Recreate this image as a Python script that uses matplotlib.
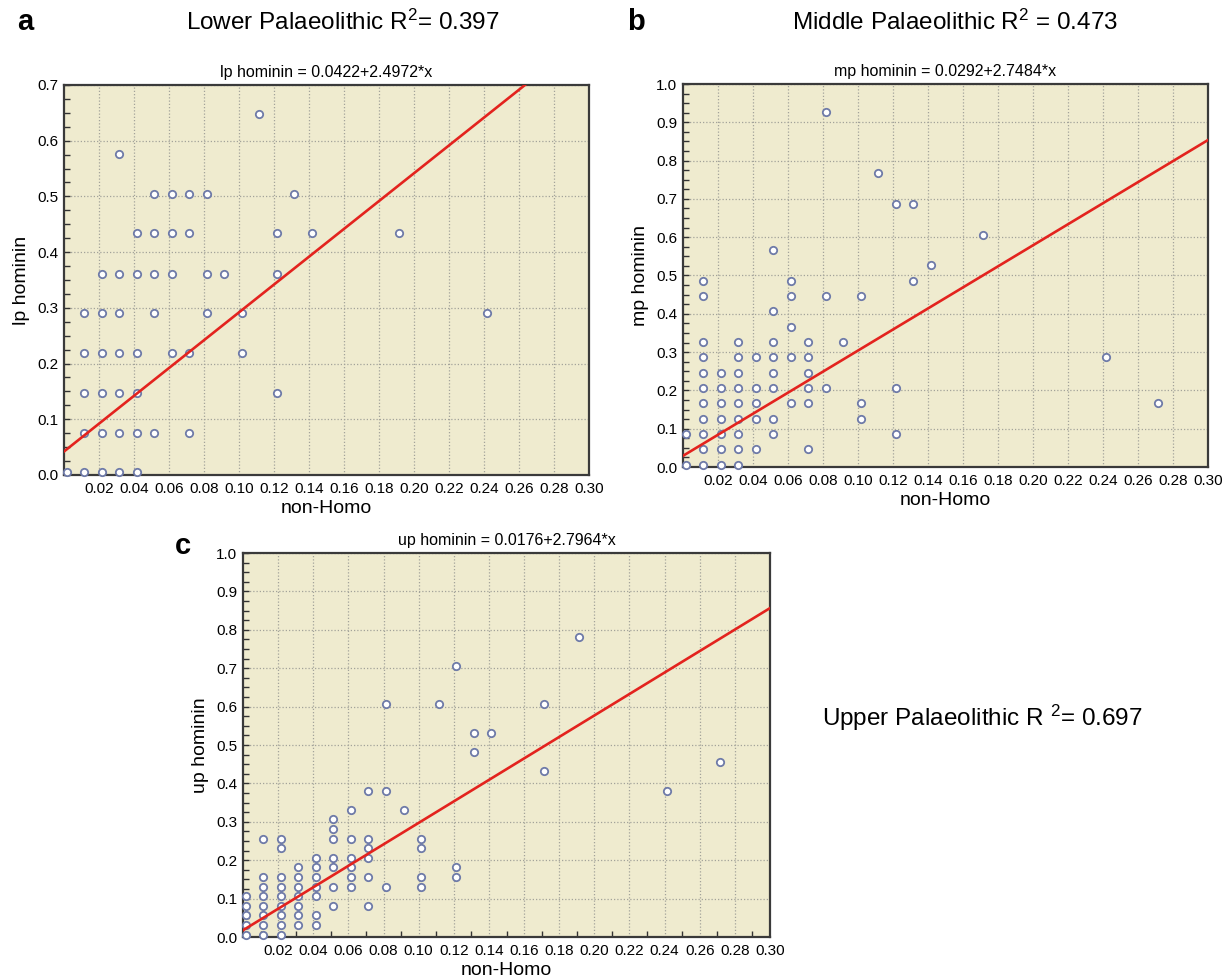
import numpy as np
import matplotlib.pyplot as plt
import matplotlib.transforms as mtransforms
from matplotlib.ticker import MultipleLocator, FormatStrFormatter, FixedLocator

plt.rcParams['font.family'] = ['Liberation Sans', 'DejaVu Sans']
plt.rcParams['mathtext.fontset'] = 'custom'
plt.rcParams['mathtext.rm'] = 'Liberation Sans'
plt.rcParams['mathtext.it'] = 'Liberation Sans:italic'

# Lower Palaeolithic (panel a)
lp_x = [0.00, 0.01, 0.02, 0.03, 0.04,
        0.01, 0.02, 0.03, 0.04, 0.05, 0.07,
        0.01, 0.02, 0.03, 0.04, 0.12,
        0.01, 0.02, 0.03, 0.04, 0.06, 0.07, 0.10,
        0.01, 0.02, 0.03, 0.05, 0.08, 0.10, 0.24,
        0.02, 0.03, 0.04, 0.05, 0.06, 0.08, 0.09, 0.12,
        0.04, 0.05, 0.06, 0.07, 0.12, 0.14, 0.19,
        0.05, 0.06, 0.07, 0.08, 0.13,
        0.03,
        0.11]
lp_y = [0.0, 0.0, 0.0, 0.0, 0.0,
        0.071, 0.071, 0.071, 0.071, 0.071, 0.071,
        0.143, 0.143, 0.143, 0.143, 0.143,
        0.214, 0.214, 0.214, 0.214, 0.214, 0.214, 0.214,
        0.286, 0.286, 0.286, 0.286, 0.286, 0.286, 0.286,
        0.357, 0.357, 0.357, 0.357, 0.357, 0.357, 0.357, 0.357,
        0.429, 0.429, 0.429, 0.429, 0.429, 0.429, 0.429,
        0.5, 0.5, 0.5, 0.5, 0.5,
        0.571,
        0.643]

# Middle Palaeolithic (panel b)
mp_x = [0.00, 0.01, 0.02, 0.03,
        0.01, 0.02, 0.03, 0.04, 0.07,
        0.00, 0.01, 0.02, 0.03, 0.05, 0.12,
        0.01, 0.02, 0.03, 0.04, 0.05, 0.10,
        0.01, 0.02, 0.03, 0.04, 0.06, 0.07, 0.10, 0.27,
        0.01, 0.02, 0.03, 0.04, 0.05, 0.07, 0.08, 0.12,
        0.01, 0.02, 0.03, 0.05, 0.07,
        0.01, 0.03, 0.04, 0.05, 0.06, 0.07, 0.24,
        0.01, 0.03, 0.05, 0.07, 0.09,
        0.06,
        0.05,
        0.01, 0.06, 0.08, 0.10,
        0.01, 0.06, 0.13,
        0.14,
        0.05,
        0.17,
        0.12, 0.13,
        0.11,
        0.08]
mp_y = [0.0, 0.0, 0.0, 0.0,
        0.04, 0.04, 0.04, 0.04, 0.04,
        0.08, 0.08, 0.08, 0.08, 0.08, 0.08,
        0.12, 0.12, 0.12, 0.12, 0.12, 0.12,
        0.16, 0.16, 0.16, 0.16, 0.16, 0.16, 0.16, 0.16,
        0.20, 0.20, 0.20, 0.20, 0.20, 0.20, 0.20, 0.20,
        0.24, 0.24, 0.24, 0.24, 0.24,
        0.28, 0.28, 0.28, 0.28, 0.28, 0.28, 0.28,
        0.32, 0.32, 0.32, 0.32, 0.32,
        0.36,
        0.40,
        0.44, 0.44, 0.44, 0.44,
        0.48, 0.48, 0.48,
        0.52,
        0.56,
        0.60,
        0.68, 0.68,
        0.76,
        0.92]

# Upper Palaeolithic (panel c)
up_x = [0.00, 0.01, 0.02,
        0.00, 0.01, 0.02, 0.03, 0.04,
        0.00, 0.01, 0.02, 0.03, 0.04,
        0.00, 0.01, 0.02, 0.03, 0.05, 0.07,
        0.00, 0.01, 0.02, 0.03, 0.04,
        0.01, 0.02, 0.03, 0.04, 0.05, 0.06, 0.08, 0.10,
        0.01, 0.02, 0.03, 0.04, 0.06, 0.07, 0.10, 0.12,
        0.03, 0.04, 0.05, 0.06, 0.12,
        0.04, 0.05, 0.06, 0.07,
        0.02, 0.07, 0.10,
        0.01, 0.02, 0.05, 0.06, 0.07, 0.10,
        0.05,
        0.05,
        0.06, 0.09,
        0.07, 0.08, 0.24,
        0.17,
        0.27,
        0.13,
        0.13, 0.14,
        0.08, 0.11, 0.17,
        0.12,
        0.19]
up_y = [0.0, 0.0, 0.0,
        0.025, 0.025, 0.025, 0.025, 0.025,
        0.05, 0.05, 0.05, 0.05, 0.05,
        0.075, 0.075, 0.075, 0.075, 0.075, 0.075,
        0.10, 0.10, 0.10, 0.10, 0.10,
        0.125, 0.125, 0.125, 0.125, 0.125, 0.125, 0.125, 0.125,
        0.15, 0.15, 0.15, 0.15, 0.15, 0.15, 0.15, 0.15,
        0.175, 0.175, 0.175, 0.175, 0.175,
        0.20, 0.20, 0.20, 0.20,
        0.225, 0.225, 0.225,
        0.25, 0.25, 0.25, 0.25, 0.25, 0.25,
        0.275,
        0.30,
        0.325, 0.325,
        0.375, 0.375, 0.375,
        0.425,
        0.45,
        0.475,
        0.525, 0.525,
        0.60, 0.60, 0.60,
        0.70,
        0.775]

intercepts = [0.0422, 0.0292, 0.0176]
slopes = [2.4972, 2.7484, 2.7964]
y_names = ["lp hominin", "mp hominin", "up hominin"]
y_tops = [0.7, 1.0, 1.0]
r2_titles = [r"Lower Palaeolithic R$^2$= 0.397",
             r"Middle Palaeolithic R$^2$ = 0.473",
             r"Upper Palaeolithic R $^2$= 0.697"]

BG = '#EFEBCF'
EDGE = '#6E7AA8'
RED = '#E3231E'

fig = plt.figure(figsize=(12.31, 9.8), dpi=100)
W, H = 1231, 980


def add_axes_px(left, top, right, bottom):
    return fig.add_axes([left / W, 1 - bottom / H, (right - left) / W, (bottom - top) / H])


axes = [add_axes_px(64, 85, 589, 475),
        add_axes_px(683, 84, 1208, 467),
        add_axes_px(243, 553, 770, 937)]
data = [(lp_x, lp_y), (mp_x, mp_y), (up_x, up_y)]

# the original software draws markers a couple of pixels up/right of the grid
shift = mtransforms.ScaledTranslation(2.5 / 100, 2.5 / 100, fig.dpi_scale_trans)

for i, ax in enumerate(axes):
    xs, ys = data[i]
    ax.set_facecolor(BG)
    ax.set_xlim(0, 0.30)
    ax.set_ylim(0, y_tops[i])

    ax.plot(xs, ys, 'o', ms=5.3, mfc='white', mec=EDGE, mew=1.3,
            transform=ax.transData + shift, clip_on=False, zorder=3)

    xl = np.array([0.0, 0.30])
    ax.plot(xl, intercepts[i] + slopes[i] * xl, color=RED, lw=1.9, zorder=4)

    ax.xaxis.set_major_locator(FixedLocator(np.arange(0.02, 0.301, 0.02)))
    ax.xaxis.set_major_formatter(FormatStrFormatter('%.2f'))
    ax.yaxis.set_major_locator(MultipleLocator(0.1))
    ax.yaxis.set_minor_locator(MultipleLocator(0.025))
    ax.yaxis.set_major_formatter(FormatStrFormatter('%.1f'))

    ax.grid(True, which='major', color='#A3A39A', linestyle=(0, (1, 1.6)), lw=0.9)
    ax.set_axisbelow(True)

    ax.tick_params(axis='y', which='both', direction='in', length=4, width=1,
                   color='#333333', labelsize=11, pad=4)
    ax.tick_params(axis='x', which='both', length=0, labelsize=11, pad=5)
    if i == 2:
        ax.xaxis.set_minor_locator(FixedLocator(np.arange(0.01, 0.30, 0.02)))
        ax.tick_params(axis='x', which='minor', direction='in', length=4,
                       width=1, color='#333333')

    for sp in ax.spines.values():
        sp.set_color('#3A3A3A')
        sp.set_linewidth(1.6)

    ax.set_xlabel("non-Homo", fontsize=14, labelpad=3)
    ax.set_ylabel(y_names[i], fontsize=14, labelpad=5)
    ax.set_title(f"{y_names[i]} = {intercepts[i]:.4f}+{slopes[i]:.4f}*x",
                 fontsize=11.5, pad=6)

# panel letters and R² headings
fig.text(25 / W, 1 - 22 / H, "a", fontsize=21, fontweight='bold', ha='center', va='center')
fig.text(636 / W, 1 - 22 / H, "b", fontsize=21, fontweight='bold', ha='center', va='center')
fig.text(183 / W, 1 - 546 / H, "c", fontsize=21, fontweight='bold', ha='center', va='center')

fig.text(343 / W, 1 - 22 / H, r2_titles[0], fontsize=17.5, ha='center', va='center')
fig.text(955 / W, 1 - 22 / H, r2_titles[1], fontsize=17.5, ha='center', va='center')
fig.text(982 / W, 1 - 718 / H, r2_titles[2], fontsize=17.5, ha='center', va='center')

fig.savefig("out.png", dpi=100, facecolor='white')
